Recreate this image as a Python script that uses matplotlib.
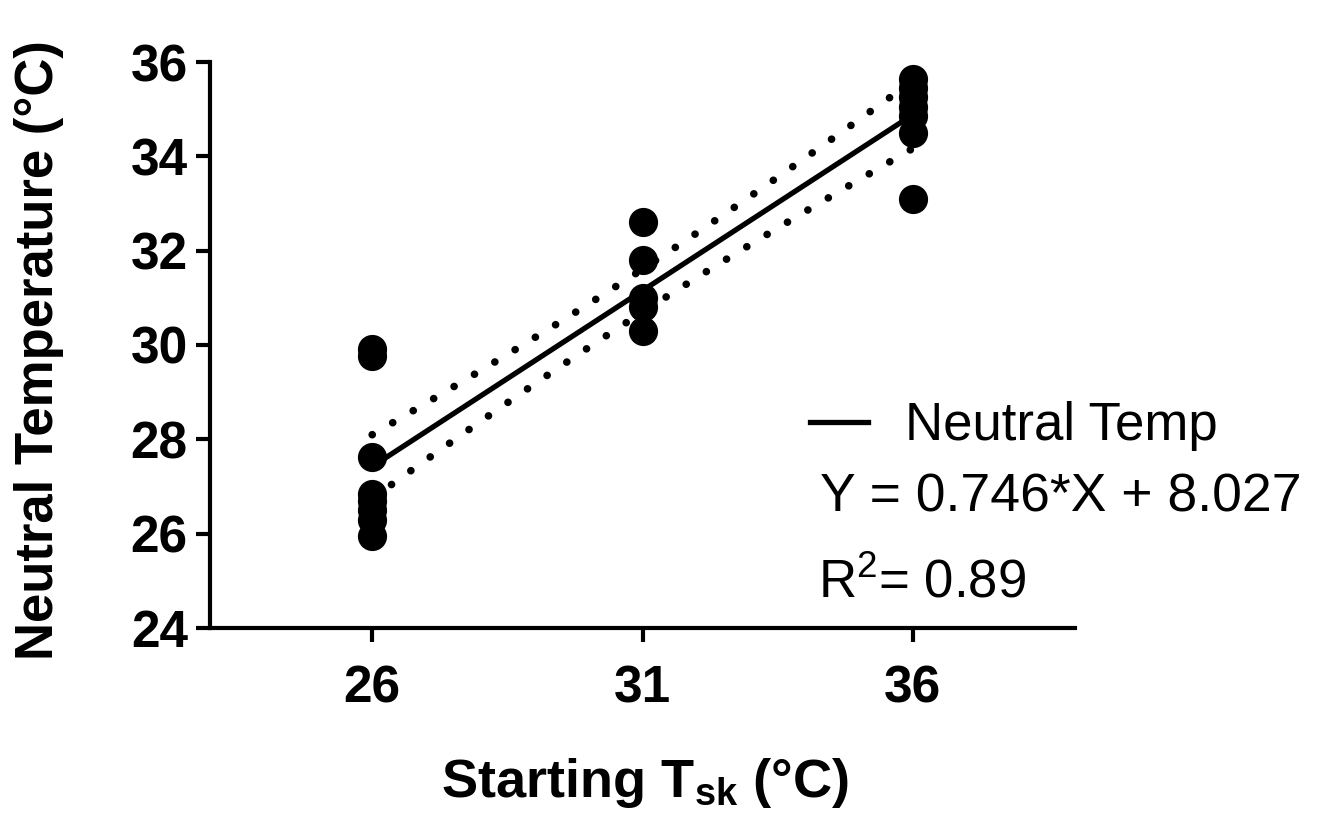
import numpy as np
import matplotlib
matplotlib.use("Agg")
import matplotlib.pyplot as plt

plt.rcParams['font.family'] = ['Liberation Sans', 'DejaVu Sans']
plt.rcParams['mathtext.default'] = 'regular'

# starting skin temperature groups and the neutral temperatures
x_26 = [26] * 8
y_26 = [29.92, 29.77, 27.63, 26.85, 26.7, 26.5, 26.3, 25.95]
x_31 = [31] * 5
y_31 = [32.6, 31.8, 31.0, 30.8, 30.3]
x_36 = [36] * 7
y_36 = [35.65, 35.45, 35.25, 35.05, 34.85, 34.5, 33.1]

slope = 0.746
intercept = 8.027
r2 = 0.89
t_crit = 1.734  # band level

xs = np.array(x_26 + x_31 + x_36, dtype=float)
ys = np.array(y_26 + y_31 + y_36)

fig = plt.figure(figsize=(13.2, 8.14), dpi=100)
ax = fig.add_axes([210 / 1320, 1 - 628 / 814, (1075 - 210) / 1320, (628 - 62) / 814])

# regression line and confidence band
xf = np.linspace(26, 36, 200)
yf = slope * xf + intercept
n = len(xs)
resid = ys - (slope * xs + intercept)
s = np.sqrt(np.sum(resid ** 2) / (n - 2))
sxx = np.sum((xs - xs.mean()) ** 2)
se = s * np.sqrt(1 / n + (xf - xs.mean()) ** 2 / sxx)

ax.plot(xs, ys, 'o', color='black', ms=20, zorder=3)
ax.plot(xf, yf, color='black', lw=3.8, zorder=4, label='Neutral Temp')
ax.plot(xf, yf + t_crit * se, color='black', lw=5.5, ls=(0, (0.01, 3.1)),
        dash_capstyle='round', zorder=2)
ax.plot(xf, yf - t_crit * se, color='black', lw=5.5, ls=(0, (0.01, 3.1)),
        dash_capstyle='round', zorder=2)

ax.set_xlim(23, 39)
ax.set_ylim(24, 36)
ax.set_xticks([26, 31, 36])
ax.set_yticks(range(24, 37, 2))
for sp in ['top', 'right']:
    ax.spines[sp].set_visible(False)
for sp in ['left', 'bottom']:
    ax.spines[sp].set_linewidth(3)
ax.tick_params(width=3, length=10, labelsize=37)
ax.tick_params(axis='x', pad=16)
ax.tick_params(axis='y', pad=6)
for lab in ax.get_xticklabels() + ax.get_yticklabels():
    lab.set_fontweight('bold')

fig.text(39 / 1320, 1 - 350 / 814, 'Neutral Temperature (°C)', rotation=90,
         ha='center', va='center', fontsize=38, fontweight='bold')
fig.text(645 / 1320, 1 - 797 / 814, r'Starting T$_{sk}$ (°C)',
         ha='center', va='baseline', fontsize=39, fontweight='bold')

ax.legend(loc='center left', bbox_to_anchor=(810 / 1320, 1 - 426 / 814),
          bbox_transform=fig.transFigure, frameon=False, fontsize=38,
          handlelength=1.1, handletextpad=0.7, borderpad=0, borderaxespad=0)
fig.text(820 / 1320, 1 - 512 / 814, 'Y = %.3f*X + %.3f' % (slope, intercept),
         fontsize=38.5, va='baseline')
fig.text(818 / 1320, 1 - 597 / 814, 'R$^2$= %.2f' % r2, fontsize=38, va='baseline')

fig.savefig('out.png', dpi=100)
